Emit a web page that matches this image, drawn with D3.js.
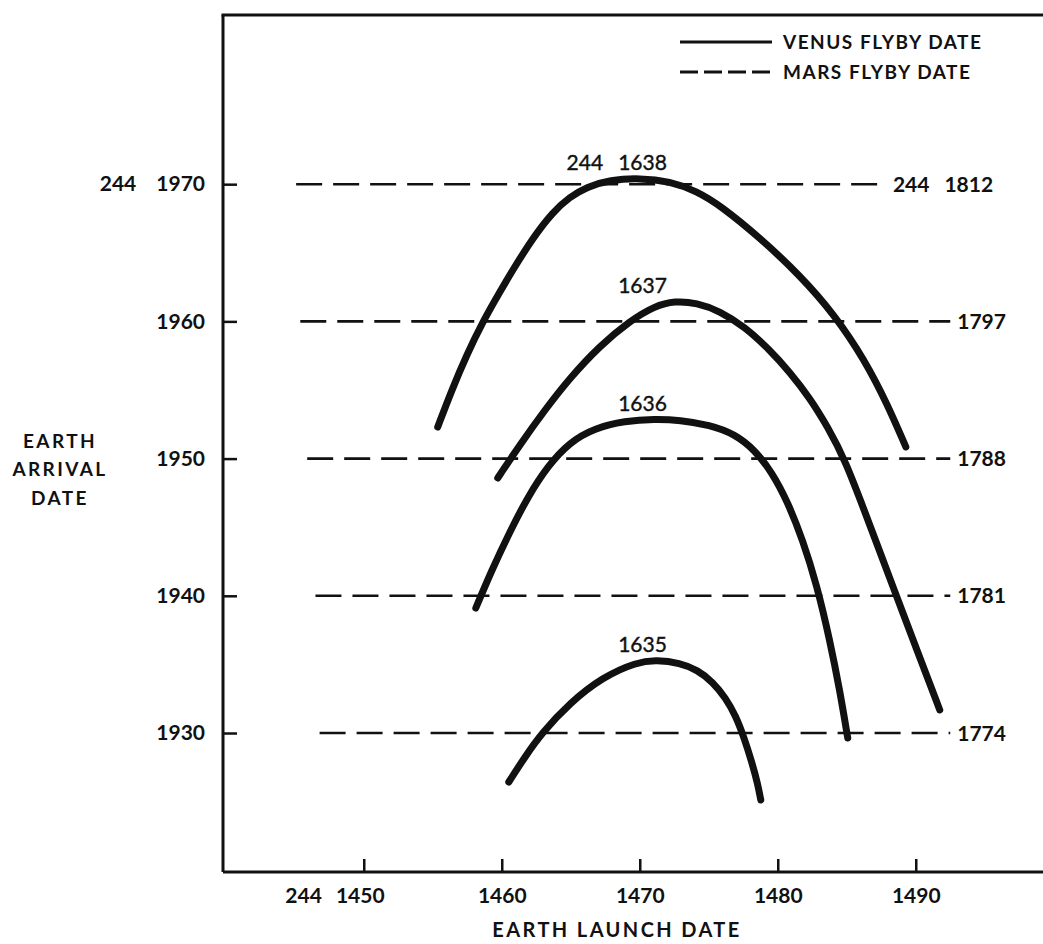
<!DOCTYPE html>
<html><head><meta charset="utf-8">
<script src="https://cdn.jsdelivr.net/npm/d3@7"></script>
<style>
html,body{margin:0;padding:0;background:#fff;}
svg text{font-family:Lato,"DejaVu Sans",sans-serif;fill:#111;}
</style></head>
<body>
<svg id="chart" width="1043" height="944"></svg>
<script>
// ---- data ----
const xTicks = [1450, 1460, 1470, 1480, 1490];
const xTickLabels = ["244 1450", "1460", "1470", "1480", "1490"];
const yTicks = [1930, 1940, 1950, 1960, 1970];
const yTickLabels = ["1930", "1940", "1950", "1960", "244 1970"];

// Mars flyby (dashed) lines: earth arrival date, launch extent, label
const marsArrival = [1970, 1960, 1950, 1940, 1930];
const marsStart = [1445.1, 1445.4, 1445.9, 1446.5, 1446.8];
const marsEnd = [1487.4, 1492.5, 1492.5, 1492.5, 1492.5];
const marsLabels = ["244 1812", "1797", "1788", "1781", "1774"];

// Venus flyby (solid) curves: [earth launch, earth arrival]
const venus1635 = [[1460.51,1926.43],[1461.67,1928.25],[1462.90,1930.00],[1464.93,1932.19],[1467.32,1934.08],[1469.78,1935.17],[1471.23,1935.32],[1472.90,1935.10],[1474.20,1934.59],[1475.29,1933.72],[1476.23,1932.55],[1476.96,1931.24],[1477.54,1929.71],[1478.12,1927.89],[1478.55,1926.28],[1478.77,1925.12]];
const venus1636 = [[1458.12,1939.11],[1459.28,1941.88],[1460.58,1944.65],[1461.88,1947.20],[1463.33,1949.46],[1464.93,1951.21],[1466.74,1952.23],[1468.91,1952.74],[1471.09,1952.89],[1472.90,1952.81],[1475.07,1952.45],[1476.88,1951.79],[1478.33,1950.63],[1479.57,1949.02],[1480.72,1946.84],[1481.81,1944.07],[1482.83,1940.79],[1483.77,1936.78],[1484.49,1933.13],[1485.07,1929.64]];
const venus1637 = [[1459.71,1948.59],[1461.30,1950.99],[1463.12,1953.54],[1464.93,1955.87],[1467.10,1958.21],[1469.28,1960.03],[1471.09,1961.12],[1472.54,1961.49],[1474.13,1961.35],[1475.80,1960.76],[1477.61,1959.60],[1479.42,1957.92],[1480.87,1956.31],[1482.32,1954.42],[1483.62,1952.30],[1484.86,1949.97],[1486.67,1945.16],[1488.33,1940.71],[1490.14,1935.90],[1491.74,1931.68]];
const venus1638 = [[1455.36,1952.30],[1456.38,1955.00],[1457.46,1957.55],[1458.62,1959.96],[1459.86,1962.14],[1460.80,1963.75],[1462.25,1966.08],[1463.70,1967.97],[1464.93,1969.07],[1466.16,1969.80],[1467.83,1970.31],[1470.00,1970.45],[1472.20,1970.20],[1474.10,1969.50],[1475.90,1968.40],[1478.70,1966.10],[1481.59,1963.38],[1484.13,1960.47],[1486.30,1957.19],[1487.97,1953.91],[1489.28,1950.85]];
const venusCurves = [venus1635, venus1636, venus1637, venus1638];
const venusLabels = ["1635", "1636", "1637", "244 1638"];
const venusLabelLaunch = 1470.2;

const legendLabels = ["VENUS FLYBY DATE", "MARS FLYBY DATE"];
const xTitle = "EARTH LAUNCH DATE";
const yTitle = ["EARTH", "ARRIVAL", "DATE"];

// ---- drawing ----
const svg = d3.select("#chart");
const x = d3.scaleLinear().domain([1439.8, 1499.3]).range([223, 1044.1]);
const y = d3.scaleLinear().domain([1919.87, 1982.33]).range([872, 15]);
const ink = "#111";

// write "244 xxxx" style labels with a wide gap between the parts
function prefixed(sel, label, gap) {
  const parts = label.split(" ");
  sel.text(null);
  if (parts.length > 1) {
    sel.append("tspan").text(parts[0]);
    sel.append("tspan").attr("dx", gap).text(parts[1]);
  } else {
    sel.text(label);
  }
  return sel;
}

// top frame line
svg.append("line").attr("x1", x.range()[0] - 1.5).attr("x2", 1043)
  .attr("y1", y.range()[1]).attr("y2", y.range()[1])
  .attr("stroke", ink).attr("stroke-width", 3.2);

// left axis
const yAxis = d3.axisLeft(y).tickValues(yTicks).tickSize(-14).tickPadding(18)
  .tickFormat((d, i) => yTickLabels[i]);
const gy = svg.append("g").attr("transform", `translate(${x.range()[0]},0)`).call(yAxis);
gy.select(".domain").attr("stroke", ink).attr("stroke-width", 3).attr("d", `M0,${y.range()[1]}V${y.range()[0]}`);
gy.selectAll(".tick line").attr("stroke", ink).attr("stroke-width", 2.5);
gy.selectAll(".tick text").attr("font-size", 21).attr("font-weight", 700).attr("fill", ink)
  .attr("font-family", "Lato, sans-serif")
  .each(function(d, i) { prefixed(d3.select(this), yTickLabels[i], 20); });

// bottom axis
const xAxis = d3.axisBottom(x).tickValues(xTicks).tickSize(-13).tickPadding(16)
  .tickFormat((d, i) => xTickLabels[i].split(" ").pop());
const gx = svg.append("g").attr("transform", `translate(0,${y.range()[0]})`).call(xAxis);
gx.select(".domain").attr("stroke", ink).attr("stroke-width", 3).attr("d", `M${x.range()[0]},0H1043`);
gx.selectAll(".tick line").attr("stroke", ink).attr("stroke-width", 2.5);
gx.selectAll(".tick text").attr("font-size", 21).attr("font-weight", 700).attr("fill", ink)
  .attr("font-family", "Lato, sans-serif");
gx.selectAll(".tick").each(function(d, i) {
  const parts = xTickLabels[i].split(" ");
  if (parts.length > 1) {
    const t = d3.select(this).select("text").attr("x", -4);
    const w = t.node().getComputedTextLength();
    d3.select(this).append("text").attr("x", -4 - w / 2 - 14).attr("y", t.attr("y")).attr("dy", t.attr("dy"))
      .attr("text-anchor", "end").attr("font-size", 21).attr("font-weight", 700).attr("fill", ink)
      .attr("font-family", "Lato, sans-serif").text(parts.slice(0, -1).join(" "));
  }
});

// axis titles
svg.append("text").attr("x", 617).attr("y", 937).attr("text-anchor", "middle")
  .attr("font-size", 20).attr("font-weight", 700).attr("letter-spacing", 2.4).text(xTitle);
const yTitleBase = [448, 476, 505];
yTitle.forEach((t, i) => {
  svg.append("text").attr("x", 60).attr("y", yTitleBase[i]).attr("text-anchor", "middle")
    .attr("font-size", 19).attr("font-weight", 700).attr("letter-spacing", 2.4).text(t);
});

// Mars dashed lines
marsArrival.forEach((a, i) => {
  svg.append("line").attr("x1", x(marsStart[i])).attr("x2", x(marsEnd[i]))
    .attr("y1", y(a)).attr("y2", y(a))
    .attr("stroke", ink).attr("stroke-width", 2.6).attr("stroke-dasharray", "26,11");
  const t = svg.append("text").attr("x", x(marsEnd[i]) + (i === 0 ? 13 : 7)).attr("y", y(a)).attr("dy", "0.36em")
    .attr("font-size", 21).attr("font-weight", 700);
  prefixed(t, marsLabels[i], 15);
});

// Venus curves
const line = d3.line().x(d => x(d[0])).y(d => y(d[1])).curve(d3.curveBasis);
venusCurves.forEach((c, i) => {
  svg.append("path").attr("d", line(c)).attr("fill", "none").attr("stroke", ink)
    .attr("stroke-width", 7).attr("stroke-linecap", "round").attr("stroke-linejoin", "round");
  const peak = c.reduce((m, p) => p[1] > m[1] ? p : m, c[0]);
  const parts = venusLabels[i].split(" ");
  const px = x(venusLabelLaunch), py = y(peak[1]) - 8;
  const t = svg.append("text").attr("x", px).attr("y", py).attr("text-anchor", "middle")
    .attr("font-size", 21).attr("font-weight", 400).attr("stroke", ink).attr("stroke-width", 0.4)
    .text(parts[parts.length - 1]);
  if (parts.length > 1) {
    const w = t.node().getComputedTextLength();
    svg.append("text").attr("x", px - w / 2 - 15).attr("y", py).attr("text-anchor", "end")
      .attr("font-size", 21).attr("font-weight", 400).attr("stroke", ink).attr("stroke-width", 0.4)
      .text(parts.slice(0, -1).join(" "));
  }
});

// legend
const lg = svg.append("g");
legendLabels.forEach((t, i) => {
  const ly = 42 + i * 30;
  lg.append("line").attr("x1", 680).attr("x2", 772).attr("y1", ly).attr("y2", ly)
    .attr("stroke", ink).attr("stroke-width", 3)
    .attr("stroke-dasharray", i === 1 ? "18,6" : null);
  lg.append("text").attr("x", 783).attr("y", ly).attr("dy", "0.36em")
    .attr("font-size", 19).attr("font-weight", 700).attr("letter-spacing", 1.5).text(t);
});
</script>
</body></html>
